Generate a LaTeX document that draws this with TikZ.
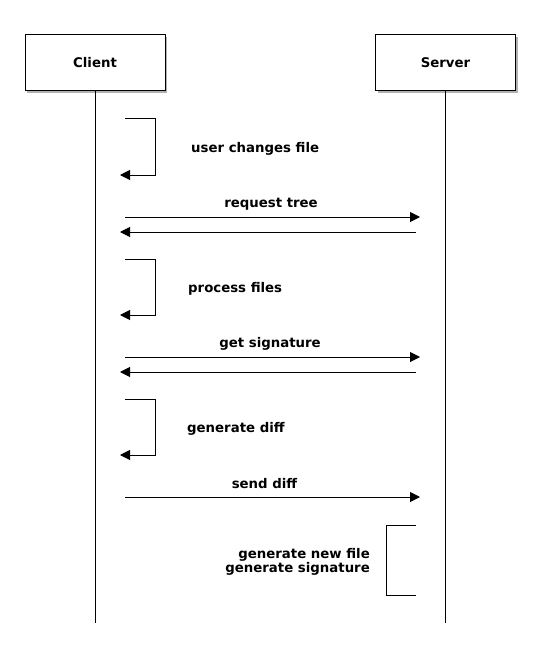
\documentclass[tikz,border=0pt]{standalone}
\usepackage{fontspec}
\setmainfont{DejaVu Sans}
\usetikzlibrary{arrows.meta,shadows}
\tikzset{
  actor/.style={draw, line width=1pt, fill=white, minimum width=140pt, minimum height=56pt,
    font=\bfseries\fontsize{13.3}{14}\selectfont,
    drop shadow={shadow xshift=2pt,shadow yshift=-2.5pt,opacity=0.3,fill=black}},
  msg/.style={line width=1pt, -{Triangle[length=10pt,width=10pt]}},
  lifeline/.style={line width=1pt},
  lbl/.style={font=\bfseries\fontsize{13.3}{14}\selectfont, inner sep=0pt}
}
\begin{document}
\begin{tikzpicture}[x=1pt,y=-1pt]
\useasboundingbox[fill=white] (0,0) rectangle (540,658);
% actors
\node[actor] (client) at (95,63) {Client};
\node[actor] (server) at (445.5,63) {Server};
\coordinate (cend) at (95,623);
\coordinate (send) at (445.5,623);
\draw[lifeline] (client.south) -- (cend);
\draw[lifeline] (server.south) -- (send);

% self message 1
\coordinate (a1) at (125,119); \coordinate (a2) at (155,119);
\coordinate (a3) at (155,175); \coordinate (a4) at (120,175);
\draw[msg] (a1) -- (a2) -- (a3) -- (a4);
\node[lbl, anchor=west] (l1) at (191,148.5) {user changes file};

% request tree
\coordinate (b1) at (125,217); \coordinate (b2) at (420,217);
\coordinate (b3) at (416,232); \coordinate (b4) at (120,232);
\draw[msg] (b1) -- (b2);
\draw[msg] (b3) -- (b4);
\node[lbl] (l2) at (271,204) {request tree};

% self message 2
\coordinate (c1) at (125,259); \coordinate (c2) at (155,259);
\coordinate (c3) at (155,315); \coordinate (c4) at (120,315);
\draw[msg] (c1) -- (c2) -- (c3) -- (c4);
\node[lbl, anchor=west] (l3) at (188,288.5) {process files};

% get signature
\coordinate (d1) at (125,357); \coordinate (d2) at (420,357);
\coordinate (d3) at (416,372); \coordinate (d4) at (120,372);
\draw[msg] (d1) -- (d2);
\draw[msg] (d3) -- (d4);
\node[lbl] (l4) at (270,344) {get signature};

% self message 3
\coordinate (e1) at (125,399); \coordinate (e2) at (155,399);
\coordinate (e3) at (155,455); \coordinate (e4) at (120,455);
\draw[msg] (e1) -- (e2) -- (e3) -- (e4);
\node[lbl, anchor=west] (l5) at (187,428.5) {generate diff};

% send diff
\coordinate (f1) at (125,497); \coordinate (f2) at (420,497);
\draw[msg] (f1) -- (f2);
\node[lbl] (l6) at (264.5,484) {send diff};

% server activity
\coordinate (g1) at (416,525); \coordinate (g2) at (386,525);
\coordinate (g3) at (386,595); \coordinate (g4) at (416,595);
\draw[lifeline] (g1) -- (g2) -- (g3) -- (g4);
\node[lbl, anchor=east, align=right] (l7) at (370,561.5) {generate new file\\generate signature};
\end{tikzpicture}
\end{document}
